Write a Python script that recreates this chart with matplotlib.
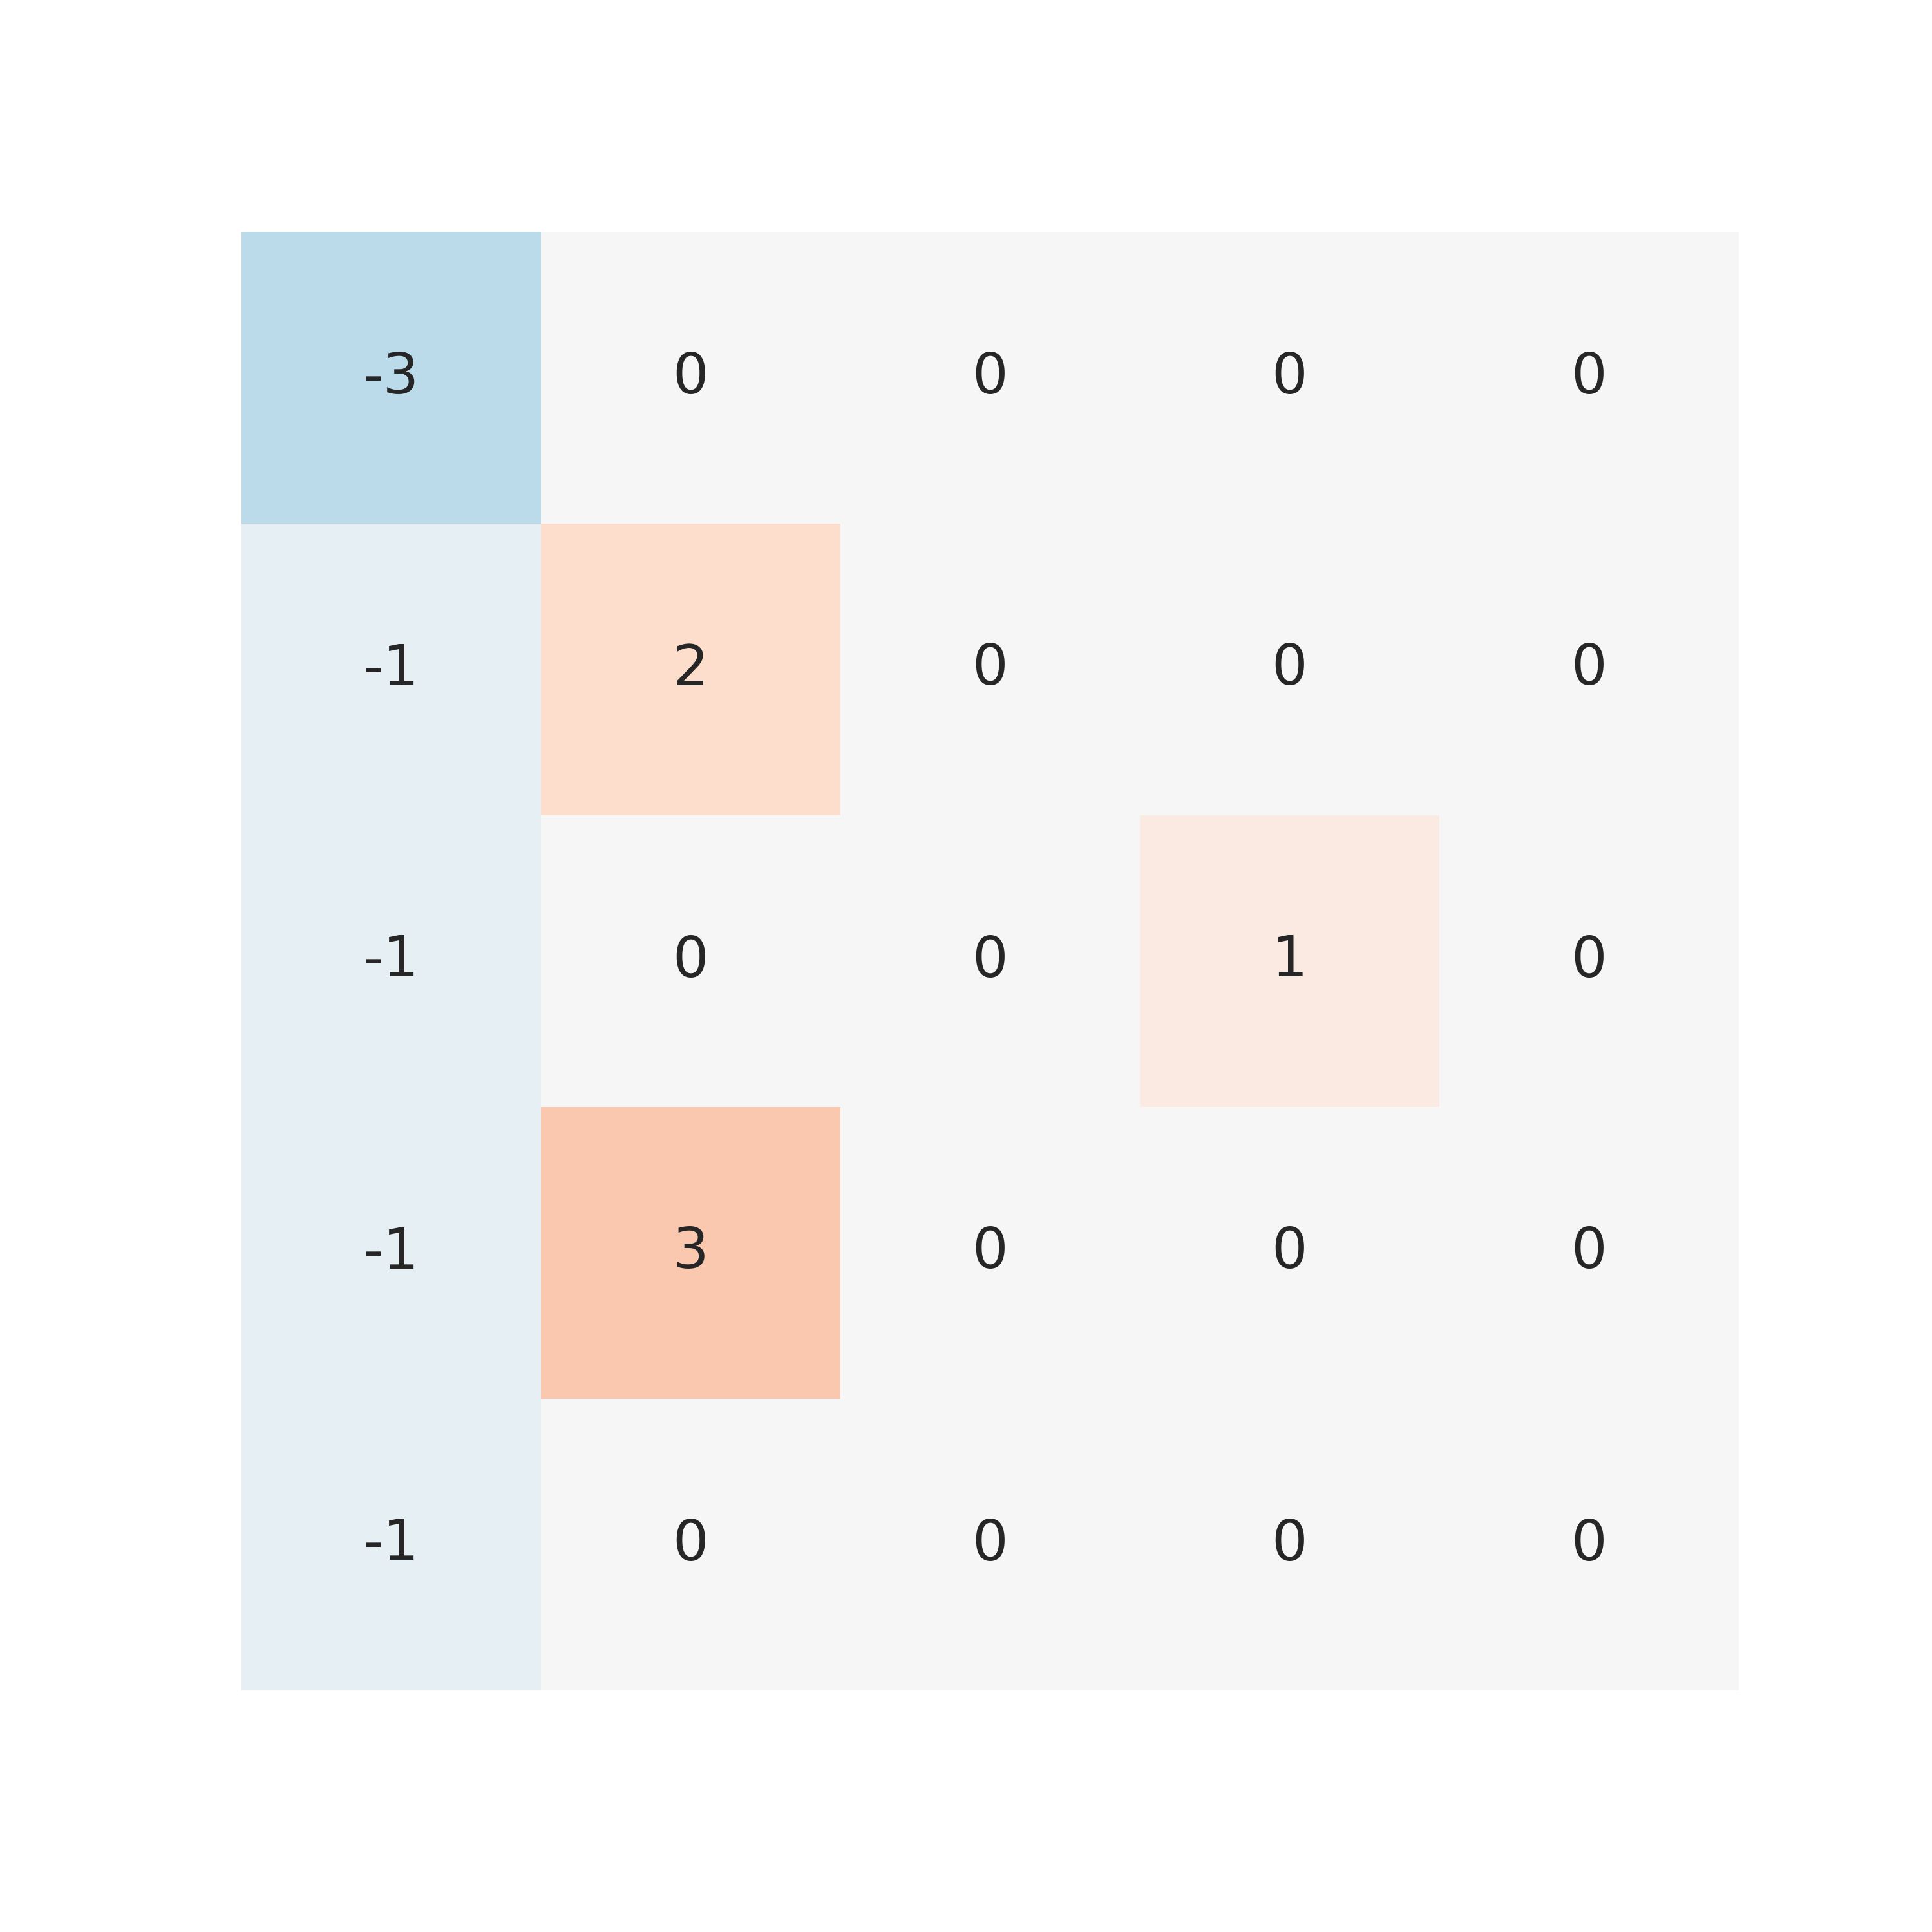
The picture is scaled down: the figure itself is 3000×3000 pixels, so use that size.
import numpy as np
import matplotlib
matplotlib.use("Agg")
import matplotlib.pyplot as plt
import seaborn as sns

# valores da matriz (linhas de cima para baixo)
linha_0 = [-3, 0, 0, 0, 0]
linha_1 = [-1, 2, 0, 0, 0]
linha_2 = [-1, 0, 0, 1, 0]
linha_3 = [-1, 3, 0, 0, 0]
linha_4 = [-1, 0, 0, 0, 0]

matriz = np.array([linha_0, linha_1, linha_2, linha_3, linha_4])

fig = plt.figure(figsize=(10, 10), dpi=300)
ax = fig.add_axes([0.125, 0.125, 0.775, 0.755])

sns.heatmap(matriz, ax=ax, cmap="RdBu_r", vmin=-11, vmax=11, center=0,
            annot=True, fmt="d", cbar=False,
            annot_kws={"fontsize": 21, "color": "#262626"})

ax.set_xticks([])
ax.set_yticks([])
for s in ax.spines.values():
    s.set_visible(False)

plt.savefig("out.png", dpi=300)
